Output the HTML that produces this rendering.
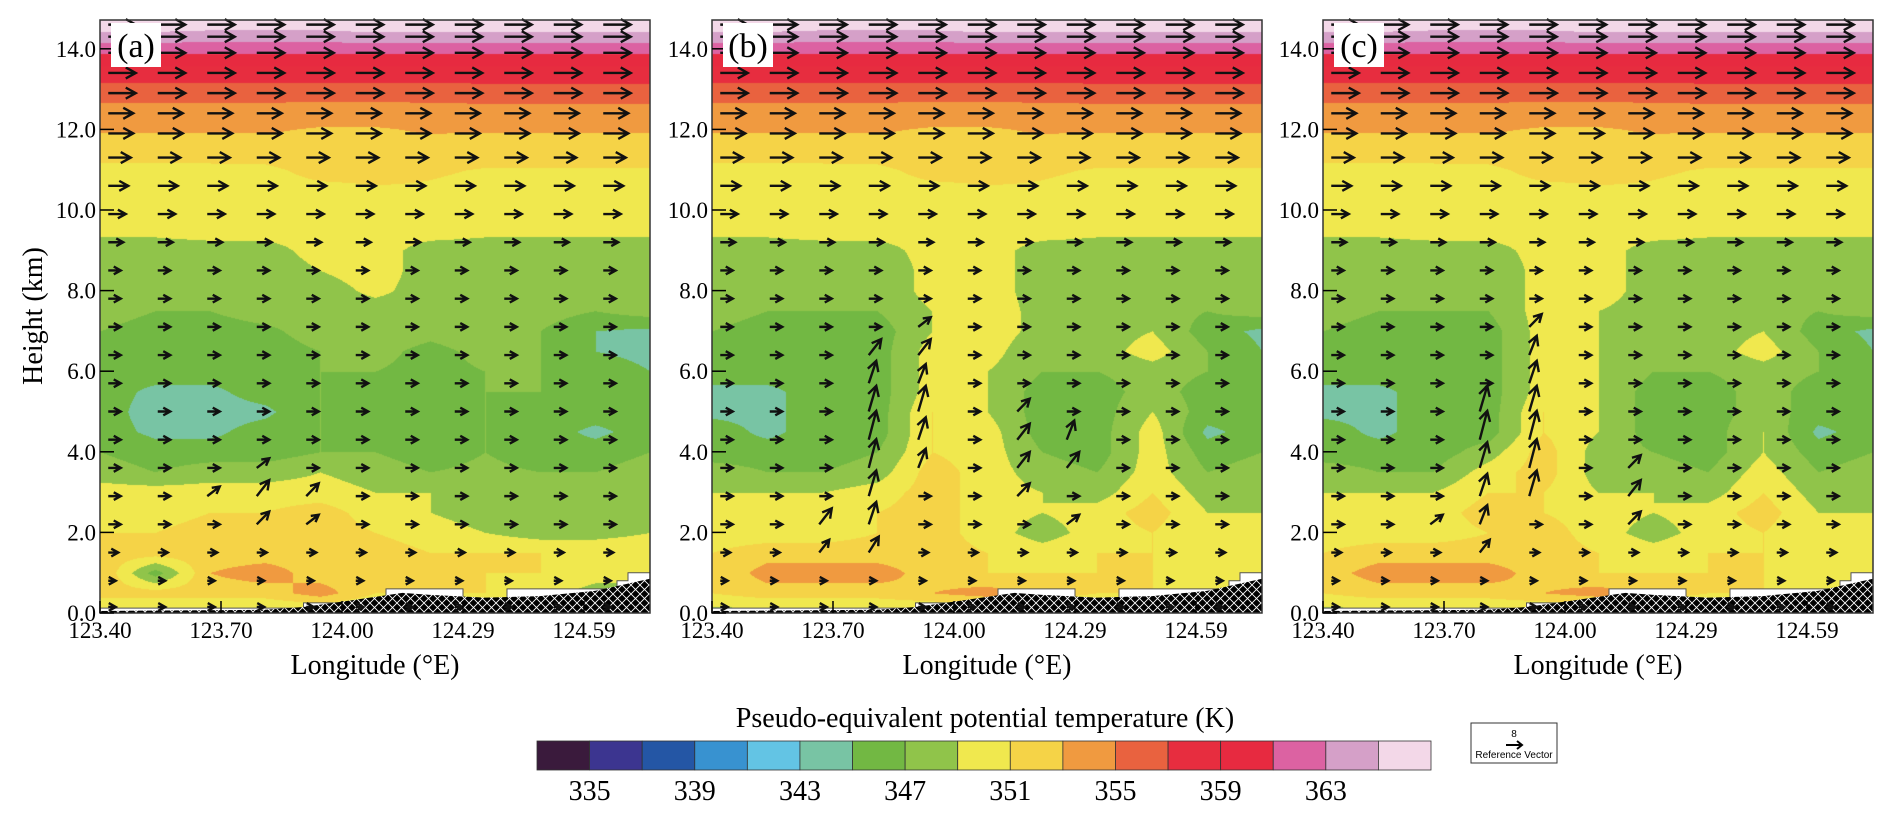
<!DOCTYPE html>
<html><head><meta charset="utf-8"><style>
body{margin:0;background:#fff;width:1892px;height:820px;position:relative;overflow:hidden;font-family:"Liberation Serif",serif}
canvas{position:absolute}
#ov{position:absolute;left:0;top:0}
</style></head><body>
<svg id="ov" width="1892" height="820">
<defs><pattern id="hatch" width="9" height="9" patternUnits="userSpaceOnUse"><rect width="9" height="9" fill="#000"/><path d="M0 9L9 0M-1 1L1 -1M8 10L10 8M0 0L9 9M-1 8L1 10M8 -1L10 1" stroke="#fff" stroke-width="0.9"/></pattern></defs>
</svg>
<script>
const heights=[0,0.5,1,1.5,2,2.5,3,3.5,4,4.5,5,5.5,6,6.5,7,7.5,8,8.5,9,9.5,10,10.5,11,11.5,12,12.5,13,13.5,14,14.5,15];
const upper=[
[349.5,349.5,350,350,350,350,350,349.5,349.5,349.5,349.5],
[350,350,350,350,350,350,350,350,350,350,350],
[350.3,350.3,350.3,350.3,350.5,350.8,350.8,350.5,350.5,350.5,350.5],
[350.6,350.6,350.6,350.6,351.6,351.6,351.2,350.9,350.9,350.9,350.9],
[351.8,351.8,351.8,352,352.8,352.8,352.2,351.8,351.8,351.8,351.8],
[353.2,353.2,353.2,353.2,352.8,352.8,353.2,353.2,353.2,353.2,353.2],
[354.4,354.4,354.4,354.4,354.2,354.2,354.4,354.4,354.4,354.4,354.4],
[356.2,356.2,356.2,356.2,356.2,356.2,356.2,356.4,356.4,356.4,356.4],
[358.5,358.5,358.5,358.5,358.5,358.5,358.5,358.5,358.5,358.5,358.5],
[361.8,361.8,361.8,361.8,361.8,361.8,361.8,361.8,361.8,361.8,361.8],
[365.5,365.5,365.2,365.2,365.2,365.6,365.6,365.6,365.6,365.6,365.6],
[367,367,367,367,367,367,367,367,367,367,367]];
const gridA=[
[348,348,348,348,348,348,348,348,348,348,348],
[352,352,352,352,354,351,351,351,350,348,348],
[353,346,353,354,352,352,352,351,351,350,350],
[352,352,352,352,352,352,351,351,351,351,351],
[351,351,352,352,352,351,350,349,348,348,349],
[350,350,351,351,352,350,349,348,348,347.5,348],
[350,350,350,350,350,349,349,348,348,348,348],
[348,347,348,348,349,348,347,347.5,347,347,348],
[347,346,346,346,347,347,346,347,346,346,347],
[346,344.5,344.5,346,347,346,346,347,346,344.5,346],
[346,344,344,344.5,347,346,345.5,347,346,346,346],
[346,344.5,344.5,346,347,346,346,347,347,346,346],
[346,346,346,346,347,347,346,347,347,346,345],
[346,345.5,346,346,347,348,346,348,347,345,344.5],
[347,346,346,346.5,348,349,348,349,347,345,344.5],
[348,347,347,348,348,348,348,348,348,347,348],
[347,347,347,347,348,349.5,348,347,347,347,347],
[347,347,347,347.5,349,350,348,347,347,347,347],
[348,348,348,348,350,350,348,348,348,348,348]].concat(upper);
const gridB=[
[348,348,348,348,348,348,348,348,348,348,348],
[351,352,352,352,353,354,352,351,351,350,349],
[351,354,354,354,352,351,351,351,351,350,350],
[351,352,352,352,352,351,350,351,351,351,351],
[350,350,350,351,352,350,348,350,351,349,350],
[350,350,350,351,352,350,349,350,352,349,349],
[349,349,349,350,352,350,349,348,351,348,348],
[348,347,347,348,352,350,348,347,350,347,348],
[346,346,346,347,351,350,347,346,350,346,347],
[346,344.5,346,346,351,350,346,346,350,344.5,346],
[344.5,344.5,346,346,351,349,346,346,349,346,346],
[344.5,344.5,346,346,350,349,346,346,348,346,346],
[346,346,346,346,350,349,347,347,348,347,346],
[346,346,346,346,350,350,347,348,350,347,345],
[347,346,346,346,349,350.5,348,348,349,346,344.5],
[348,347,347,347,349,350.5,348,348,348,347,348],
[347,347,347,347,350,350,348,347,347,347,347],
[347,347,347,347,350,350,348,347,347,347,347],
[348,348,348,348,350,350,348,348,348,348,348]].concat(upper);
const gridC=[
[348,348,348,348,348,348,348,348,348,348,348],
[351,352,352,352,353,354,352,351,351,350,349],
[352,354,354,354,352,351,351,351,351,350,350],
[351,352,352,352,352,351,350,351,351,351,351],
[350,350,350,351,352,350,348,350,351,349,350],
[350,350,350,352,351,350,349,350,352,349,349],
[349,349,349,351,351,349,349,348,351,348,348],
[348,347,347,350,352,348,348,347,350,347,348],
[346,346,346,348,352,348,347,346,349,346,347],
[346,344.5,346,346,351,349,346,346,349,344.5,346],
[344.5,344.5,346,346,351,349,346,346,348,346,346],
[344.5,344.5,346,346,350,349,346,346,348,346,346],
[346,346,346,346,350,349,347,347,348,347,346],
[346,346,346,346,350,349,347,348,350,347,345],
[347,346,346,346,350,349,348,348,349,346,344.5],
[348,347,347,347,350,349,348,348,348,347,348],
[347,347,347,347,350,350,348,347,347,347,347],
[347,347,347,347,350,350,348,347,347,347,347],
[348,348,348,348,350,350,348,348,348,348,348]].concat(upper);
const vecHeights=[0.15,0.8,1.5,2.2,2.9,3.6,4.3,5.0,5.7,6.4,7.1,7.8,8.5,9.2,9.9,10.6,11.3,11.9,12.4,12.9,13.4,13.9,14.3,14.6];
const uRows=[3,3,4,5,5,5,5,5,5,5,5,5,5,6,7,8,9,10,10,11,11,11,11,11];
const updA=[[3,3,4],[3,4,5],[2,4,3],[4,4,4],[3,5,3],[4,3,3]];
const updB=[[2,2,4],[2,3,5],[3,2,5],[3,3,7],[3,4,8],[3,5,9],[3,6,9],[3,7,8],[3,8,7],[4,5,6],[4,6,7],[4,7,8],[4,8,6],[4,9,5],[4,10,3],[3,9,5],[6,4,4],[6,5,5],[6,6,5],[6,7,4],[7,3,3],[7,5,5],[7,6,6]];
const updC=[[3,2,4],[3,3,6],[3,4,7],[3,5,8],[3,6,9],[3,7,8],[4,4,8],[4,5,9],[4,6,9],[4,7,8],[4,8,7],[4,9,6],[4,10,4],[6,3,4],[6,4,5],[6,5,4],[2,3,3]];
const xTicks=["123.40","123.70","124.00","124.29","124.59"];
const yTicks=[0,2,4,6,8,10,12,14];
const cbLabels=["335","339","343","347","351","355","359","363"];
const colors=["#3a1a3c","#3c3590","#2456a5","#3892d0","#63c4e4","#78c4a4","#72b843","#90c44a","#f0e84e","#f5d347","#f09a40","#e9623f","#e72d3f","#e72a40","#dc62a2","#d5a0c8","#f3d8e8"];
const terrainTop=[[0,0.05],[0.3,0.08],[0.37,0.15],[0.45,0.3],[0.55,0.5],[0.6,0.45],[0.7,0.38],[0.8,0.42],[0.9,0.55],[1,0.85]];
const missingTop=[[0,0.12],[0.37,0.12],[0.37,0.25],[0.52,0.25],[0.52,0.6],[0.66,0.6],[0.66,0.35],[0.74,0.35],[0.74,0.6],[0.94,0.6],[0.94,0.8],[0.96,0.8],[0.96,1.0],[1,1.0]];

const panels=[{L:100,g:gridA,u:updA,t:"(a)"},{L:712,g:gridB,u:updB,t:"(b)"},{L:1323,g:gridC,u:updC,t:"(c)"}];
const W=550,TOP=20,BOT=613,KM=40.3;
const svg=document.getElementById('ov');const NS="http://www.w3.org/2000/svg";
function el(tag,attrs,parent){const e=document.createElementNS(NS,tag);for(const k in attrs)e.setAttribute(k,attrs[k]);(parent||svg).appendChild(e);return e;}
function hexrgb(h){return [parseInt(h.substr(1,2),16),parseInt(h.substr(3,2),16),parseInt(h.substr(5,2),16)];}
const rgb=colors.map(hexrgb);
function colIdx(v){return Math.max(0,Math.min(16,Math.floor((v-333)/2)));}
const xs=f=>f*W; const ys=h=>BOT-h*KM;

panels.forEach((p,pi)=>{
  const H=BOT-TOP;
  const cv=document.createElement('canvas');cv.width=W;cv.height=H;cv.style.left=p.L+'px';cv.style.top=TOP+'px';
  
  
  document.body.insertBefore(cv,svg);
  const ctx=cv.getContext('2d');const img=ctx.createImageData(W,H);
  for(let y=0;y<H;y++){const h=(BOT-(TOP+y))/KM;let r=h/0.5;if(r<0)r=0;if(r>heights.length-1.001)r=heights.length-1.001;const j=Math.floor(r),fy=r-j;
    for(let x=0;x<W;x++){const c=x/W*10;const i=Math.min(9,Math.floor(c)),fx=c-i;
      const g=p.g;const v=(g[j][i]*(1-fx)+g[j][i+1]*fx)*(1-fy)+(g[j+1][i]*(1-fx)+g[j+1][i+1]*fx)*fy;
      const col=rgb[colIdx(v)];const o=(y*W+x)*4;img.data[o]=col[0];img.data[o+1]=col[1];img.data[o+2]=col[2];img.data[o+3]=255;}}
  ctx.putImageData(img,0,0);
  const G=el('g',{transform:`translate(${p.L},0)`});
  
  
  let d="M0 "+BOT+" "+missingTop.map(q=>"L"+xs(q[0])+" "+ys(q[1])).join(" ")+" L"+W+" "+BOT+"Z";
  const m=el('path',{d:d,fill:"#fff",stroke:"#555","stroke-width":1},G);
  
  
  d="M0 "+BOT+" "+terrainTop.map(q=>"L"+xs(q[0])+" "+ys(q[1])).join(" ")+" L"+W+" "+BOT+"Z";
  const tr=el('path',{d:d,fill:"url(#hatch)"},G);
  
  
  const upd={};p.u.forEach(a=>upd[a[0]+"_"+a[1]]=a[2]);
  for(let r=0;r<vecHeights.length;r++){for(let c=0;c<11;c++){
    const x0=xs(0.015+c*0.09),y0=ys(vecHeights[r]);const w=upd[c+"_"+r]||0;
    const dx=uRows[r]*2.5*(w>5?0.6:1),dy=-w*3.2;
    const len=Math.hypot(dx,dy),ux=dx/len,uy=dy/len,hl=Math.min(10,Math.max(7,len*0.45));
    const x1=x0+dx,y1=y0+dy;
    const a=el('path',{d:`M${x0} ${y0}L${x1} ${y1}M${x1-hl*ux-hl*0.55*uy} ${y1-hl*uy+hl*0.55*ux}L${x1} ${y1}L${x1-hl*ux+hl*0.55*uy} ${y1-hl*uy-hl*0.55*ux}`,stroke:"#111","stroke-width":2.4,fill:"none"},G);
    
    
  }}
  const fr=el('rect',{x:0,y:TOP,width:W,height:BOT-TOP,fill:"none",stroke:"#333","stroke-width":1.5},G);
  
  
  yTicks.forEach(v=>{const y=ys(v);
    const tk=el('line',{x1:0,x2:14,y1:y,y2:y,stroke:"#000","stroke-width":1.5},G);
    
    
    const t=el('text',{x:-4,y:y+8,"text-anchor":"end","font-size":23,"font-family":"Liberation Serif"},G);t.textContent=v.toFixed(1);
    
    });
  xTicks.forEach((s,k)=>{const x=k*121;
    const tk=el('line',{x1:x,x2:x,y1:BOT,y2:BOT-12,stroke:"#000","stroke-width":1.5},G);
    
    
    const t=el('text',{x:x,y:638,"text-anchor":"middle","font-size":23,"font-family":"Liberation Serif"},G);t.textContent=s;
    
    });
  const xl=el('text',{x:W/2,y:674,"text-anchor":"middle","font-size":28,"font-family":"Liberation Serif"},G);xl.textContent="Longitude (°E)";
  
  
  const lb=el('rect',{x:11,y:23,width:50,height:44,fill:"#fff"},G);
  
  
  const lt=el('text',{x:36,y:57,"text-anchor":"middle","font-size":34,"font-family":"Liberation Serif"},G);lt.textContent=p.t;
  
  
});
const yl=el('text',{x:0,y:0,transform:"translate(42,316) rotate(-90)","text-anchor":"middle","font-size":28,"font-family":"Liberation Serif"});yl.textContent="Height (km)";


const cbt=el('text',{x:985,y:727,"text-anchor":"middle","font-size":28,"font-family":"Liberation Serif"});cbt.textContent="Pseudo-equivalent potential temperature (K)";


const CB0=537,CBW=894/17;
colors.forEach((c,k)=>{const r=el('rect',{x:CB0+k*CBW,y:741,width:CBW,height:29,fill:c,stroke:"#333","stroke-width":0.8});
  
  });
cbLabels.forEach((s,k)=>{const t=el('text',{x:CB0+(1+2*k)*CBW,y:800,"text-anchor":"middle","font-size":28,"font-family":"Liberation Serif"});t.textContent=s;
  
  });
const rb=el('rect',{x:1471,y:723,width:86,height:40,fill:"#fff",stroke:"#333","stroke-width":1});


const rv=el('path',{d:"M1506 745L1522 745M1517 741L1522 745L1517 749",stroke:"#000","stroke-width":2,fill:"none"});


const r8=el('text',{x:1514,y:737,"text-anchor":"middle","font-size":10,"font-family":"Liberation Sans"});r8.textContent="8";


const rt=el('text',{x:1514,y:758,"text-anchor":"middle","font-size":10,"font-family":"Liberation Sans"});rt.textContent="Reference Vector";


</script>
</body></html>
